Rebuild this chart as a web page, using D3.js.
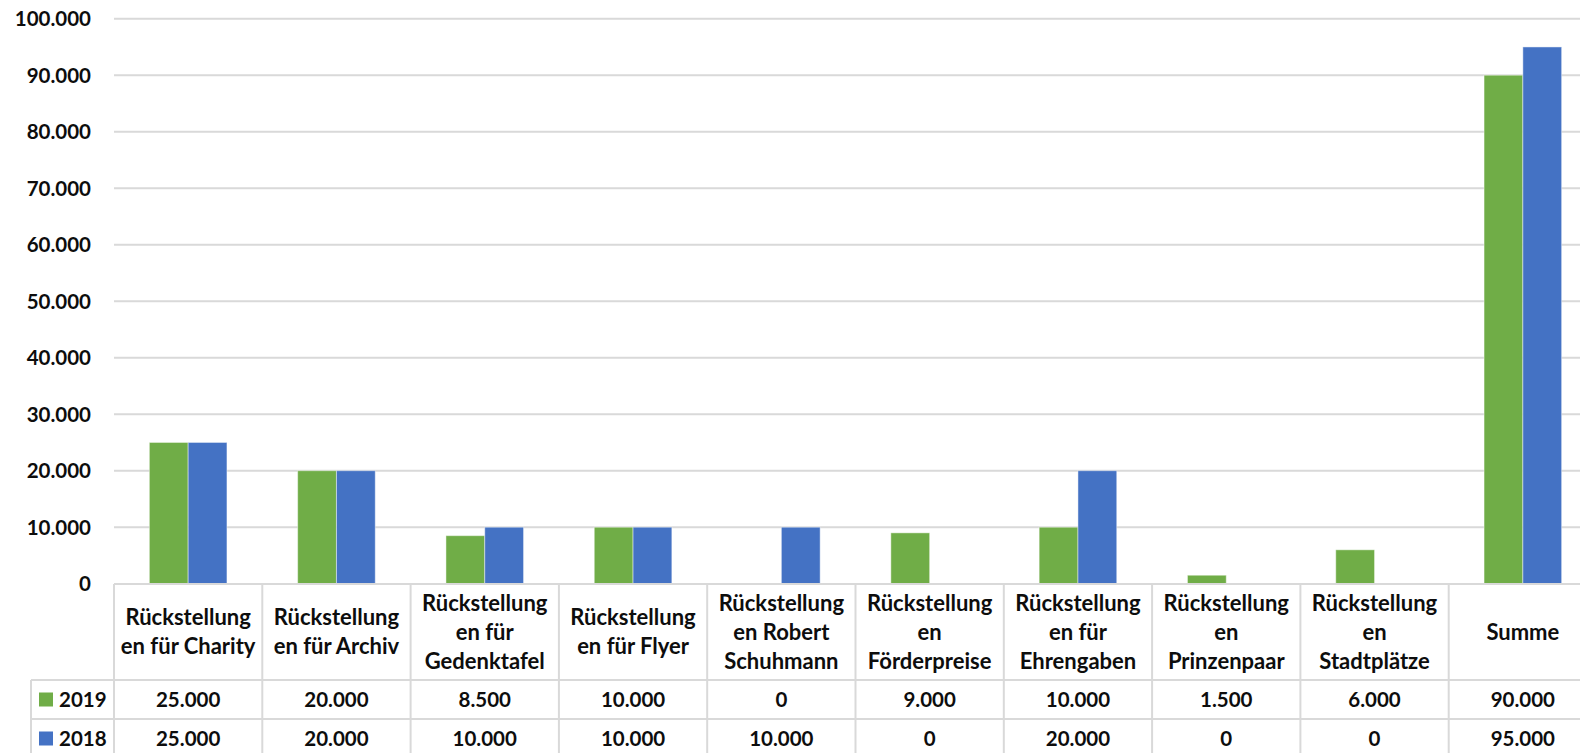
<!DOCTYPE html>
<html>
<head>
<meta charset="utf-8">
<script src="https://cdn.jsdelivr.net/npm/d3@7/dist/d3.min.js"></script>
<style>
  html, body { margin: 0; padding: 0; background: #fff; }
  svg { display: block; }
  text { font-family: Lato, "Open Sans", sans-serif; font-weight: bold; fill: #0d0d0d; }
</style>
</head>
<body>
<svg id="chart" width="1580" height="753"></svg>
<script>
// Category labels, wrapped as they appear in the table header
const categoryLines = [
  ["Rückstellung", "en für Charity"],
  ["Rückstellung", "en für Archiv"],
  ["Rückstellung", "en für", "Gedenktafel"],
  ["Rückstellung", "en für Flyer"],
  ["Rückstellung", "en Robert", "Schuhmann"],
  ["Rückstellung", "en", "Förderpreise"],
  ["Rückstellung", "en für", "Ehrengaben"],
  ["Rückstellung", "en", "Prinzenpaar"],
  ["Rückstellung", "en", "Stadtplätze"],
  ["Summe"]
];
const categories = categoryLines.map(l => l.join(" "));

const seriesNames = ["2019", "2018"];
const values2019 = [25000, 20000, 8500, 10000, 0, 9000, 10000, 1500, 6000, 90000];
const values2018 = [25000, 20000, 10000, 10000, 10000, 0, 20000, 0, 0, 95000];
const seriesColors = ["#70ad47", "#4472c4"];

const yTicks = [0, 10000, 20000, 30000, 40000, 50000, 60000, 70000, 80000, 90000, 100000];

// Layout
const plotLeft = 114, colW = 148.3;
const plotRight = plotLeft + colW * categories.length;
const yBase = 583.7, yTop = 18.7;
const headerTop = 584, headerBottom = 680, rowH = 39;
const legendLeft = 31;
const gridColor = "#d9d9d9";
const numSize = 20.5, headSize = 22;

const de = d3.formatLocale({ decimal: ",", thousands: ".", grouping: [3], currency: ["", " €"] });
const fmt = de.format(",.0f");

const svg = d3.select("#chart");

const x = d3.scaleBand().domain(categories).range([plotLeft, plotRight]).paddingInner(0).paddingOuter(0);
const y = d3.scaleLinear().domain([0, 100000]).range([yBase, yTop]);
const barW = 38.8;
const xSub = d3.scaleBand().domain(seriesNames).range([-barW, barW]);

// Horizontal gridlines
svg.append("g").selectAll("line").data(yTicks.slice(1)).join("line")
  .attr("x1", plotLeft).attr("x2", 1580)
  .attr("y1", d => y(d)).attr("y2", d => y(d))
  .attr("stroke", gridColor).attr("stroke-width", 2);

// Y axis labels
const yAxis = d3.axisLeft(y).tickValues(yTicks).tickSize(0).tickPadding(0).tickFormat(fmt);
const gy = svg.append("g").attr("transform", "translate(91,0)").call(yAxis);
gy.select(".domain").remove();
gy.selectAll("text").attr("font-size", numSize).attr("font-family", "Lato, 'Open Sans', sans-serif")
  .attr("font-weight", "bold").attr("fill", "#0d0d0d").attr("dy", "0.34em");

// Bars
const series = [values2019, values2018];
seriesNames.forEach((name, si) => {
  svg.append("g").selectAll("rect")
    .data(series[si].map((v, i) => ({ cat: categories[i], v })).filter(d => d.v > 0))
    .join("rect")
    .attr("x", d => x(d.cat) + x.bandwidth() / 2 + xSub(name))
    .attr("width", xSub.bandwidth())
    .attr("y", d => y(d.v))
    .attr("height", d => yBase - y(d.v))
    .attr("fill", seriesColors[si])
    .attr("stroke", "rgba(255,255,255,0.45)")
    .attr("stroke-width", 1);
});

// Data table grid
const tableBottom = 760;
const tg = svg.append("g").attr("stroke", gridColor).attr("stroke-width", 2);
tg.append("line").attr("x1", plotLeft).attr("x2", 1580).attr("y1", headerTop).attr("y2", headerTop);
[headerBottom, headerBottom + rowH].forEach(yy =>
  tg.append("line").attr("x1", legendLeft).attr("x2", 1580).attr("y1", yy).attr("y2", yy));
tg.append("line").attr("x1", legendLeft).attr("x2", legendLeft).attr("y1", headerBottom).attr("y2", tableBottom);
d3.range(categories.length + 1).forEach(i => {
  const xx = plotLeft + i * colW;
  tg.append("line").attr("x1", xx).attr("x2", xx).attr("y1", headerTop).attr("y2", tableBottom);
});

// Header labels
const lineH = 29;
const headerMid = (headerTop + headerBottom) / 2;
categoryLines.forEach((lines, i) => {
  const cx = x(categories[i]) + x.bandwidth() / 2;
  const t = svg.append("text").attr("text-anchor", "middle").attr("font-size", headSize);
  lines.forEach((ln, j) => {
    t.append("tspan").attr("x", cx)
      .attr("y", headerMid + (j - (lines.length - 1) / 2) * lineH)
      .attr("dy", "0.36em").text(ln);
  });
});

// Value rows with legend keys
series.forEach((vals, si) => {
  const rowMid = headerBottom + si * rowH + rowH / 2;
  svg.append("rect").attr("x", 39).attr("y", rowMid - 7).attr("width", 14).attr("height", 14)
    .attr("fill", seriesColors[si]);
  svg.append("text").attr("x", 59).attr("y", rowMid).attr("dy", "0.36em")
    .attr("font-size", numSize).text(seriesNames[si]);
  svg.append("g").selectAll("text").data(vals).join("text")
    .attr("x", (d, i) => x(categories[i]) + x.bandwidth() / 2)
    .attr("y", rowMid).attr("dy", "0.36em")
    .attr("text-anchor", "middle").attr("font-size", numSize)
    .text(d => fmt(d));
});
</script>
</body>
</html>
